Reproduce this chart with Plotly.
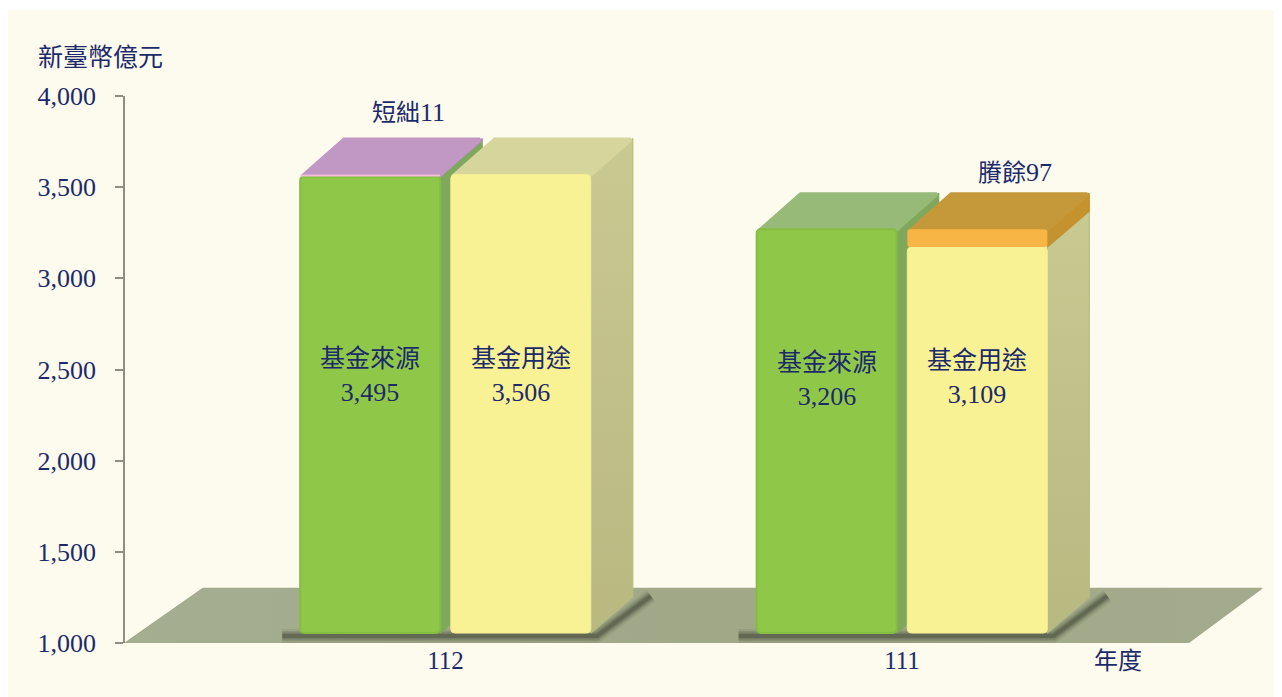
import plotly.graph_objects as go

years = ["112", "111"]
sources = [3495, 3206]
uses = [3506, 3109]
gap_labels = ["短絀11", "賸餘97"]
source_name = "基金來源"
use_name = "基金用途"
y_ticks = [1000, 1500, 2000, 2500, 3000, 3500, 4000]
y_title = "新臺幣億元"
x_title = "年度"

INK = "#1c2a6b"
SERIF = "Liberation Serif, serif"
CJK = "Noto Sans CJK TC, sans-serif"
BG = "#fdfbee"

OX = 8                            # page margin in front of the figure
W, H = 1282 - OX, 697 - OX
L, R, T, B = 125 - OX, 0, 96 - OX, 54
PX_X = 456.5                      # pixels per category
x0_px = 445.5 - OX
xr = [(L - x0_px) / PX_X, (W - R - x0_px) / PX_X]
yr = [1000, 4000]
plot_h = H - T - B
# front plane of the pseudo-3D bars has its own value axis, lifted off the floor edge
K = 0.183
lift = 10
y2r = [1000 - lift / K, 1000 - lift / K + plot_h / K]

BAR_W = 140 / PX_X
OFF = 0.165
DX = 42 / PX_X
DY = 36 / K          # depth in front-axis units


def poly(xs, ys, color, name="", grad=None, axis="y2", lw=1.2):
    kw = dict(x=list(xs) + [xs[0]], y=list(ys) + [ys[0]], mode="lines", fill="toself",
              line=dict(width=lw, color=color, shape="linear"), hoverinfo="skip",
              showlegend=False, xaxis="x", yaxis=axis, name=name)
    if grad:
        kw["fillgradient"] = dict(type=grad[0], colorscale=grad[1])
    else:
        kw["fillcolor"] = color
    return go.Scatter(**kw)


def top_face(xc, v, color):
    inset = 2 / PX_X
    l, r = xc - BAR_W / 2 + inset, xc + BAR_W / 2 - inset
    return poly([l, r, r + DX, l + DX], [v - 2 / K, v - 2 / K, v + DY - 1 / K, v + DY - 1 / K], color, lw=4)


def side_face(xc, v0, v1, color, grad=None):
    r = xc + BAR_W / 2
    return poly([r, r + DX, r + DX, r], [v0, v0 + DY, v1 + DY, v1], color, grad=grad)


fig = go.Figure()

# floor
fx = [xr[0], xr[0] + 78 / PX_X, (1262 - OX - x0_px) / PX_X, (1188 - OX - x0_px) / PX_X]
fig.add_trace(poly(fx, [1000, 1300, 1300, 1000], "#a2aa8b", axis="y",
                   grad=("horizontal", [[0, "#a6ae92"], [0.5, "#a0a888"], [1, "#a3ab8c"]])))

# soft shadows round each pair of bars
for i, _ in enumerate(years):
    l = i - OFF - BAR_W / 2 - 18 / PX_X
    r = i + OFF + BAR_W / 2
    xs = [l, r + 6 / PX_X, r + 60 / PX_X]
    ys = [1000 - 3 / K, 1000 - 3 / K, 1000 + 37 / K]
    for width, op in ((14, 0.10), (10, 0.16), (7, 0.24), (4, 0.34)):
        fig.add_trace(go.Scatter(x=xs, y=ys, mode="lines", xaxis="x", yaxis="y2",
                                 line=dict(color=f"rgba(62,68,50,{op})", width=width),
                                 hoverinfo="skip", showlegend=False))

# back faces, drawn left to right so each pair overlaps correctly
for i, _ in enumerate(years):
    s, u = sources[i], uses[i]
    xg, xy = i - OFF, i + OFF
    # green column
    fig.add_trace(side_face(xg, 1000, s, "#7fa85c"))
    if u > s:
        fig.add_trace(side_face(xg, s, u, "#a98bb3"))
        fig.add_trace(top_face(xg, u, "#c197c4"))
    else:
        fig.add_trace(top_face(xg, s, "#97ba78"))
    # yellow column
    fig.add_trace(side_face(xy, 1000, u, "#b9bb83",
                            grad=("vertical", [[0, "#b7b981"], [1, "#c9c992"]])))
    if s > u:
        fig.add_trace(side_face(xy, u, s, "#c4922f"))
        fig.add_trace(top_face(xy, s, "#c5983a"))
    else:
        fig.add_trace(top_face(xy, u, "#d6d59c"))

# front faces
xg = [i - OFF for i in range(len(years))]
xy = [i + OFF for i in range(len(years))]
fig.add_trace(go.Bar(x=xg, y=[v - 1000 for v in sources], base=1000, width=BAR_W,
                     marker=dict(color="#8fc848", line=dict(width=2, color="#84bd42"),
                                 cornerradius=4),
                     xaxis="x2", yaxis="y3", showlegend=False, hoverinfo="skip"))
fig.add_trace(go.Bar(x=xy, y=[v - 1000 for v in uses], base=1000, width=BAR_W,
                     marker=dict(color="#f8f294", line=dict(width=1, color="#f4ee90"),
                                 cornerradius=4),
                     xaxis="x2", yaxis="y3", showlegend=False, hoverinfo="skip"))
# caps showing the difference
for i, _ in enumerate(years):
    s, u = sources[i], uses[i]
    if u > s:
        cap_x, cap_base, cap_h, cap_c = xg[i], s, (u - s), "#f3bcd6"
    else:
        cap_x, cap_base, cap_h, cap_c = xy[i], u, (s - u), "#f6b545"
    fig.add_trace(go.Bar(x=[cap_x], y=[cap_h], base=cap_base, width=BAR_W,
                         marker=dict(color=cap_c, line=dict(width=0), cornerradius=3),
                         xaxis="x2", yaxis="y3", showlegend=False, hoverinfo="skip"))

ann = []
label_v = [2426, 2404]
label_v_use = [2426, 2415]
for i, _ in enumerate(years):
    ann.append(dict(x=xg[i], y=label_v[i], xref="x2", yref="y3", showarrow=False,
                    text=f"<span style='font-family:{CJK};font-size:25px'>{source_name}</span><br>{sources[i]:,}",
                    font=dict(family=SERIF, size=26, color=INK)))
    ann.append(dict(x=xy[i], y=label_v_use[i], xref="x2", yref="y3", showarrow=False,
                    text=f"<span style='font-family:{CJK};font-size:25px'>{use_name}</span><br>{uses[i]:,}",
                    font=dict(family=SERIF, size=26, color=INK)))


def mixed(t):
    cjk = "".join(c for c in t if not c.isdigit())
    num = "".join(c for c in t if c.isdigit())
    return f"<span style='font-family:{CJK};font-size:24px'>{cjk}</span>{num}"


gap_top = [max(sources[i], uses[i]) for i in range(len(years))]
gap_x = [-0.082, 1.247]
gap_shift = [8, 3]
for i, t in enumerate(gap_labels):
    ann.append(dict(x=gap_x[i], y=gap_top[i] + DY, xref="x2", yref="y3", yanchor="bottom",
                    yshift=gap_shift[i], showarrow=False, text=mixed(t),
                    font=dict(family=SERIF, size=26, color=INK)))
ann.append(dict(x=100, y=55, xref="paper", yref="paper", xanchor="center", yanchor="middle",
                showarrow=False, text=y_title, font=dict(family=CJK, size=25, color=INK)))
ann.append(dict(x=1118, y=658, xref="paper", yref="paper", xanchor="center", yanchor="middle",
                showarrow=False, text=x_title, font=dict(family=CJK, size=24, color=INK)))
# paper positions above are given in page pixels; convert to the paper fraction
pw, ph = W - L - R, plot_h
for a in ann:
    if a["xref"] == "paper":
        a["x"] = (a["x"] - OX - L) / pw
        a["y"] = 1 - (a["y"] - OX - T) / ph

fig.update_layout(
    width=W, height=H, autosize=False, barmode="overlay",
    margin=dict(l=L, r=R, t=T, b=B, pad=0),
    paper_bgcolor=BG, plot_bgcolor="rgba(0,0,0,0)", showlegend=False,
    font=dict(family=SERIF, size=25, color=INK),
    annotations=ann,
    shapes=[dict(type="rect", xref="paper", yref="paper", layer="below", line=dict(width=0),
                 fillcolor="white", x0=-L / pw, x1=1, y0=1 + (T - 2) / ph, y1=1 + T / ph)],
    xaxis=dict(range=xr, tickvals=list(range(len(years))), ticktext=years, showgrid=False,
               zeroline=False, showline=False, ticks="", tickfont=dict(size=25, color=INK)),
    yaxis=dict(range=yr, tickvals=y_ticks, tickformat=",d", showgrid=False, zeroline=False,
               showline=True, linecolor="#8d8d84", linewidth=1.5, ticks="outside", ticklen=8,
               tickcolor="#8d8d84", tickwidth=1.5, tickfont=dict(size=26, color=INK),
               ticklabelstandoff=14),
    yaxis2=dict(range=y2r, overlaying="y", visible=False),
    xaxis2=dict(range=xr, overlaying="x", visible=False),
    yaxis3=dict(range=y2r, overlaying="y", visible=False),
)
fig.write_html("out.html")
